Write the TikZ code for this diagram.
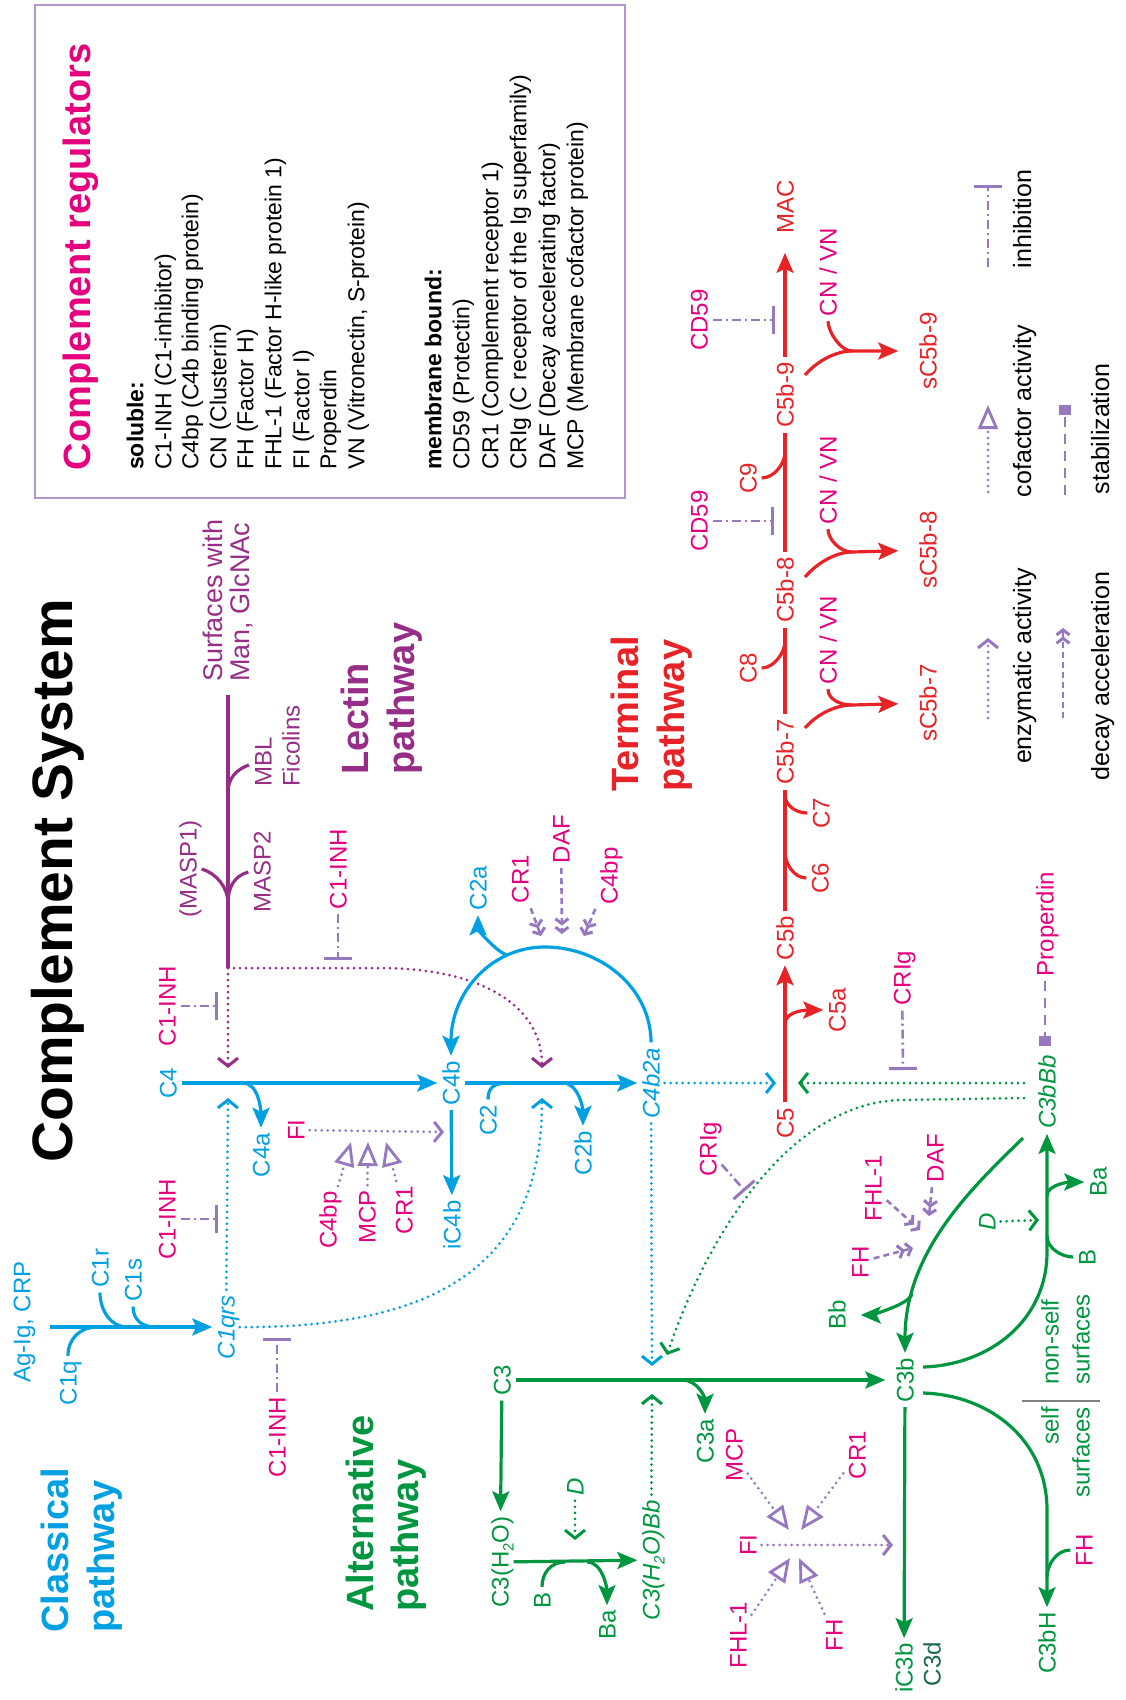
\documentclass[tikz,border=0pt]{standalone}
\usepackage{fontspec}
\setmainfont{Liberation Sans}
\usetikzlibrary{arrows.meta}
\definecolor{cblue}{RGB}{0,160,227}
\definecolor{cgreen}{RGB}{0,150,64}
\definecolor{cred}{RGB}{232,35,40}
\definecolor{cmag}{RGB}{230,0,126}
\definecolor{clect}{RGB}{150,45,135}
\definecolor{creg}{RGB}{150,120,190}
\definecolor{cbox}{RGB}{180,150,205}
\definecolor{cdark}{RGB}{25,105,75}

\begin{document}
\begin{tikzpicture}[x=1pt,y=-1pt]
\tikzstyle{lab} = [rotate=90, inner sep=5pt, text height=17pt, text depth=0pt, font=\fontsize{24}{28}\selectfont]
\tikzstyle{blab} = [lab, text=cblue]
\tikzstyle{glab} = [lab, text=cgreen]
\tikzstyle{rlab} = [lab, text=cred]
\tikzstyle{mlab} = [lab, text=cmag]
\tikzstyle{llab} = [lab, text=clect]
\tikzstyle{legtxt} = [lab, text height=18pt, font=\fontsize{25}{28}\selectfont]
\tikzstyle{boxtxt} = [rotate=90, anchor=west, inner sep=0pt, text height=16.5pt, text depth=0pt, font=\fontsize{23}{26}\selectfont]
\tikzstyle{boxbold} = [boxtxt, font=\fontsize{23}{26}\selectfont\bfseries]
\tikzstyle{ptitle} = [rotate=90, anchor=west, inner sep=0pt, text height=27.5pt, text depth=0pt, font=\fontsize{38}{44}\selectfont\bfseries]
\tikzstyle{bline} = [cblue, line width=3.2pt]
\tikzstyle{gline} = [cgreen, line width=3.2pt]
\tikzstyle{rline} = [cred, line width=3.2pt]
\tikzstyle{lline} = [clect, line width=3.2pt]
\tikzstyle{arr} = [-{Stealth[length=20pt,width=17pt,inset=4pt]}]
\tikzstyle{dotln} = [line width=3pt, line cap=round, dash pattern=on 0pt off 6pt, -{Straight Barb[length=8pt,width=20pt,line width=3pt]}]
\tikzstyle{bdot} = [dotln, cblue]
\tikzstyle{gdot} = [dotln, cgreen]
\tikzstyle{ldot} = [dotln, clect]
\tikzstyle{pdot} = [dotln, creg]
\tikzstyle{inh} = [creg, line width=2.6pt, dash pattern=on 9pt off 4pt on 2pt off 4pt, -{Bar[width=28pt,line width=3pt]}]
\tikzstyle{cof} = [creg, line width=3pt, line cap=round, dash pattern=on 0pt off 6pt, -{Triangle[open,length=24pt,width=20pt,line width=2.8pt]}]
\tikzstyle{dec} = [creg, line width=2.6pt, dash pattern=on 6pt off 4pt, -{Straight Barb[length=5pt,width=13pt,line width=3pt] Straight Barb[length=5pt,width=13pt,line width=3pt]}]
\tikzstyle{stab} = [creg, line width=2.6pt, dash pattern=on 10pt off 7pt, -{Square[length=10pt,width=12pt]}]

\useasboundingbox (0,0) rectangle (1126,1700);

% titles
\node[rotate=90, inner sep=0pt, text height=41pt, text depth=0pt, font=\fontsize{57}{60}\selectfont\bfseries] (title) at (52,881) {Complement System};
\node[ptitle, text=cblue] (clas1) at (55,1633) {Classical};
\node[ptitle, text=cblue] (clas2) at (101,1633) {pathway};
\node[ptitle, text=cgreen] (alt1) at (360,1612) {Alternative};
\node[ptitle, text=cgreen] (alt2) at (405,1612) {pathway};
\node[ptitle, text=clect] (lec1) at (355,775) {Lectin};
\node[ptitle, text=clect] (lec2) at (401,775) {pathway};
\node[ptitle, text=cred] (ter1) at (625,792) {Terminal};
\node[ptitle, text=cred] (ter2) at (671,792) {pathway};

% regulators box
\draw[cbox, line width=2pt] (35,5) rectangle (625,498);
\node[ptitle, anchor=center, text=cmag] (regtitle) at (77,257) {Complement regulators};
\node[boxbold] (sol) at (135,470) {soluble:};
\node[boxtxt] (r1) at (163,470) {C1-INH (C1-inhibitor)};
\node[boxtxt] (r2) at (190,470) {C4bp (C4b binding protein)};
\node[boxtxt] (r3) at (218,470) {CN (Clusterin)};
\node[boxtxt] (r4) at (245,470) {FH (Factor H)};
\node[boxtxt] (r5) at (273,470) {FHL-1 (Factor H-like protein 1)};
\node[boxtxt] (r6) at (301,470) {FI (Factor I)};
\node[boxtxt] (r7) at (328,470) {Properdin};
\node[boxtxt] (r8) at (356,470) {VN (Vitronectin, S-protein)};
\node[boxbold] (mem) at (433,470) {membrane bound:};
\node[boxtxt] (r9) at (461,470) {CD59 (Protectin)};
\node[boxtxt] (r10) at (490,470) {CR1 (Complement receptor 1)};
\node[boxtxt] (r11) at (518,470) {CRIg (C receptor of the Ig superfamily)};
\node[boxtxt] (r12) at (547,470) {DAF (Decay accelerating factor)};
\node[boxtxt] (r13) at (575,470) {MCP (Membrane cofactor protein)};

% legend
\node[legtxt] (lenz) at (1022,666) {enzymatic activity};
\node[legtxt] (ldec) at (1100,676) {decay acceleration};
\node[legtxt] (lcof) at (1022,411) {cofactor activity};
\node[legtxt] (lstab) at (1100,429) {stabilization};
\node[legtxt] (linh) at (1022,219) {inhibition};
\coordinate (e1) at (988,718); \coordinate (e2) at (988,638);
\coordinate (d1) at (1063,718); \coordinate (d2) at (1063,628);
\coordinate (f1) at (988,492); \coordinate (f2) at (988,405);
\coordinate (s1) at (1065,495); \coordinate (s2) at (1065,405);
\coordinate (i1) at (988,267); \coordinate (i2) at (988,185);
\draw[pdot] (e1) -- (e2);
\draw[dec] (d1) -- (d2);
\draw[cof] (f1) -- (f2);
\draw[stab] (s1) -- (s2);
\draw[inh] (i1) -- (i2);

% classical pathway
\node[blab] (agig) at (22,1322) {Ag-Ig, CRP};
\node[blab] (c1q) at (68,1383) {C1q};
\node[blab] (c1r) at (100,1268) {C1r};
\node[blab] (c1s) at (133,1280) {C1s};
\node[blab] (c1qrs) at (226,1327) {\textit{C1qrs}};
\coordinate (c1a) at (50,1327);
\coordinate (c1qj) at (97,1327);
\coordinate (c1rj) at (127,1327);
\coordinate (c1sj) at (155,1327);
\draw[bline,arr] (c1a) -- (c1qrs);
\draw[bline] (c1q.east) .. controls +(0,-18) and +(-16,0) .. (c1qj);
\draw[bline] (c1r.west) .. controls +(0,18) and +(-16,0) .. (c1rj);
\draw[bline] (c1s.west) .. controls +(0,14) and +(-12,0) .. (c1sj);

\node[mlab] (c1inhA) at (167,1006) {C1-INH};
\node[mlab] (c1inhB) at (167,1219) {C1-INH};
\node[mlab] (c1inhC) at (277,1437) {C1-INH};
\coordinate (c1inhAt) at (218,1006);
\coordinate (c1inhBt) at (218,1219);
\coordinate (c1inhCt) at (277,1338);
\draw[inh] (c1inhA) -- (c1inhAt);
\draw[inh] (c1inhB) -- (c1inhBt);
\draw[inh] (c1inhC) -- (c1inhCt);

% lectin pathway
\node[llab, anchor=west, text height=19.5pt, font=\fontsize{27}{30}\selectfont] (surf1) at (213,687) {Surfaces with};
\node[llab, anchor=west, text height=19.5pt, font=\fontsize{27}{30}\selectfont] (surf2) at (240,687) {Man, GlcNAc};
\node[llab, anchor=west] (mbl) at (263,792) {MBL};
\node[llab, anchor=west] (fic) at (291,792) {Ficolins};
\node[llab] (masp1) at (188,869) {(MASP1)};
\node[llab] (masp2) at (262,872) {MASP2};
\coordinate (lectop) at (228,695);
\coordinate (lecj) at (228,968);
\coordinate (mbls) at (249,765);
\coordinate (mblj) at (228,792);
\coordinate (maspj) at (228,903);
\draw[lline] (lectop) -- (lecj);
\draw[lline] (mbls) .. controls +(-12,4) and +(0,-14) .. (mblj);
\draw[lline] (masp1.south) .. controls +(14,4) and +(0,-16) .. (maspj);
\draw[lline] (masp2.north) .. controls +(-14,4) and +(0,-16) .. (maspj);
\node[mlab] (c1inhL) at (338,869) {C1-INH};
\coordinate (c1inhLt) at (338,960);
\draw[inh] (c1inhL) -- (c1inhLt);
\coordinate (c4inL) at (228,1068);
\coordinate (c4b2inL) at (542,1068);
\draw[ldot] (lecj) -- (c4inL);
\draw[ldot] (lecj) -- (380,968) .. controls (480,968) and (542,1005) .. (c4b2inL);

% C4 / C2 row
\node[blab] (c4) at (168,1083) {C4};
\node[blab] (c4b) at (451,1083) {C4b};
\node[blab] (c4b2a) at (651,1083) {\textit{C4b2a}};
\node[blab] (c4a) at (261,1155) {C4a};
\node[blab] (ic4b) at (452,1225) {iC4b};
\node[blab] (c2) at (488,1120) {C2};
\node[blab] (c2b) at (583,1153) {C2b};
\node[blab] (c2a) at (478,888) {C2a};
\coordinate (c4aj) at (243,1083);
\coordinate (c2j) at (510,1083);
\coordinate (c2bj) at (563,1083);
\coordinate (arctop) at (545,947);
\coordinate (c2aj) at (507,955);
\draw[bline,arr] (c4) -- (c4b);
\draw[bline,arr] (c4aj) .. controls +(16,0) and +(0,-16) .. (c4a.east);
\draw[bline,arr] (c4b) -- (ic4b);
\draw[bline,arr] (c4b) -- (c4b2a);
\draw[bline] (c2.east) .. controls +(0,-14) and +(-14,0) .. (c2j);
\draw[bline,arr] (c2bj) .. controls +(16,0) and +(0,-16) .. (c2b.east);
\draw[bline,arr] (c4b2a.east) .. controls +(0,-55) and +(55,0) .. (arctop) .. controls +(-55,0) and +(0,-62) .. (c4b.east);
\draw[bline,arr] (c2aj) .. controls +(-12,-4) and +(0,14) .. (c2a.west);

\node[mlab] (cr1a) at (520,879) {CR1};
\node[mlab] (dafa) at (561,839) {DAF};
\node[mlab] (c4bpa) at (609,876) {C4bp};
\coordinate (dA1) at (541,936);
\coordinate (dA2) at (562,934);
\coordinate (dA3) at (584,936);
\draw[dec] (cr1a) -- (dA1);
\draw[dec] (dafa) -- (dA2);
\draw[dec] (c4bpa) -- (dA3);

\node[mlab] (fia) at (296,1130) {FI};
\node[mlab] (c4bpb) at (328,1220) {C4bp};
\node[mlab] (mcpa) at (367,1217) {MCP};
\node[mlab] (cr1b) at (404,1210) {CR1};
\coordinate (fiat) at (444,1132);
\coordinate (ca1) at (351,1142);
\coordinate (ca2) at (368,1142);
\coordinate (ca3) at (386,1142);
\draw[pdot] (fia) -- (fiat);
\draw[cof] (c4bpb) -- (ca1);
\draw[cof] (mcpa) -- (ca2);
\draw[cof] (cr1b) -- (ca3);

\coordinate (c4inB) at (228,1098);
\coordinate (c4b2inB) at (542,1098);
\draw[bdot] (c1qrs) -- (c4inB);
\draw[bdot] (c1qrs) .. controls (430,1328) and (542,1270) .. (c4b2inB);
\coordinate (c5inB) at (776,1083);
\coordinate (c3inB) at (652,1366);
\draw[bdot] (c4b2a) -- (c5inB);
\draw[bdot] (c4b2a) -- (c3inB);

% terminal pathway
\node[rlab] (c5) at (785,1123) {C5};
\node[rlab] (c5b) at (785,938) {C5b};
\node[rlab] (c5a) at (837,1010) {C5a};
\node[rlab] (c6) at (820,878) {C6};
\node[rlab] (c7) at (821,813) {C7};
\node[rlab] (c5b7) at (785,752) {C5b-7};
\node[rlab] (c8) at (748,668) {C8};
\node[rlab] (c5b8) at (785,590) {C5b-8};
\node[rlab] (c9) at (748,478) {C9};
\node[rlab] (c5b9) at (785,395) {C5b-9};
\node[rlab] (mac) at (785,207) {MAC};
\coordinate (c5aj) at (785,1024);
\coordinate (c6j) at (785,852);
\coordinate (c7j) at (785,795);
\coordinate (c8j) at (785,641);
\coordinate (c9j) at (785,452);
\draw[rline,arr] (c5) -- (c5b);
\draw[rline,arr] (c5aj) .. controls +(0,-14) and +(-14,0) .. (c5a.north);
\draw[rline] (c5b) -- (c5b7);
\draw[rline] (c6.north) .. controls +(-12,0) and +(0,12) .. (c6j);
\draw[rline] (c7.north) .. controls +(-12,0) and +(0,10) .. (c7j);
\draw[rline] (c5b7) -- (c5b8);
\draw[rline] (c8.south) .. controls +(12,0) and +(0,12) .. (c8j);
\draw[rline] (c5b8) -- (c5b9);
\draw[rline] (c9.south) .. controls +(12,0) and +(0,12) .. (c9j);
\draw[rline,arr,shorten >=14pt] (c5b9) -- (mac);

\node[mlab] (cd59a) at (699,521) {CD59};
\node[mlab] (cd59b) at (699,320) {CD59};
\coordinate (cd59at) at (774,521);
\coordinate (cd59bt) at (775,320);
\draw[inh] (cd59a) -- (cd59at);
\draw[inh] (cd59b) -- (cd59bt);

\node[rlab] (s7) at (928,703) {sC5b-7};
\node[rlab] (s8) at (928,550) {sC5b-8};
\node[rlab] (s9) at (928,351) {sC5b-9};
\node[mlab] (cn7) at (828,640) {CN / VN};
\node[mlab] (cn8) at (828,480) {CN / VN};
\node[mlab] (cn9) at (828,272) {CN / VN};
\coordinate (b7s) at (805,728); \coordinate (b7j) at (852,705);
\coordinate (b8s) at (805,577); \coordinate (b8j) at (852,552);
\coordinate (b9s) at (805,375); \coordinate (b9j) at (852,351);
\draw[rline,arr,shorten >=16pt] (b7s) .. controls +(12,-14) and +(-16,0) .. (b7j) -- (s7);
\draw[rline,arr,shorten >=16pt] (b8s) .. controls +(12,-14) and +(-16,0) .. (b8j) -- (s8);
\draw[rline,arr,shorten >=16pt] (b9s) .. controls +(12,-14) and +(-16,0) .. (b9j) -- (s9);
\draw[rline] (cn7.west) .. controls +(0,10) and +(-12,0) .. (b7j);
\draw[rline] (cn8.west) .. controls +(0,10) and +(-12,0) .. (b8j);
\draw[rline] (cn9.west) .. controls +(0,10) and +(-12,0) .. (b9j);

% alternative pathway
\node[glab] (c3bbb) at (1047,1092) {\textit{C3bBb}};
\node[mlab] (prop) at (1045,924) {Properdin};
\node[mlab] (criga) at (902,978) {CRIg};
\node[mlab] (crigb) at (708,1149) {CRIg};
\coordinate (propt) at (1045,1046);
\coordinate (crigat) at (903,1070);
\coordinate (crigbt) at (745,1191);
\coordinate (c5inG) at (798,1083);
\coordinate (gA) at (1024,1083);
\coordinate (gB) at (1024,1098);
\coordinate (c3inG) at (667,1355);
\draw[stab] (prop) -- (propt);
\draw[inh] (criga) -- (crigat);
\draw[gdot] (gA) -- (c5inG);
\draw[gdot] (gB) -- (900,1100) .. controls (780,1104) and (700,1255) .. (c3inG);
\draw[inh] (crigb) -- (crigbt);

\node[glab] (c3) at (502,1380) {C3};
\node[glab] (c3b) at (905,1380) {C3b};
\node[glab] (c3a) at (705,1441) {C3a};
\node[glab] (c3h2o) at (500,1562) {C3(H\raisebox{-5pt}{\fontsize{15}{15}\selectfont 2}O)};
\node[glab] (c3h2obb) at (651,1560) {\textit{C3(H\raisebox{-5pt}{\fontsize{15}{15}\selectfont 2}O)Bb}};
\node[glab] (balt) at (542,1600) {B};
\node[glab] (baalt) at (607,1625) {Ba};
\node[glab] (dalt) at (575,1487) {\textit{D}};
\coordinate (c3aj) at (682,1380);
\coordinate (bj1) at (565,1562);
\coordinate (baj1) at (587,1562);
\coordinate (dalt2) at (575,1540);
\coordinate (c3inH) at (652,1394);
\draw[gline,arr,shorten >=6pt] (c3) -- (c3b);
\draw[gline,arr] (c3aj) .. controls +(16,0) and +(0,-16) .. (c3a.east);
\draw[gline,arr] (c3) -- (c3h2o);
\draw[gline,arr] (c3h2o) -- (c3h2obb);
\draw[gline] (balt.east) .. controls +(0,-14) and +(-14,0) .. (bj1);
\draw[gline,arr] (baj1) .. controls +(16,0) and +(0,-16) .. (baalt.east);
\draw[gdot] (dalt) -- (dalt2);
\draw[gdot] (c3h2obb) -- (c3inH);

\node[mlab] (fib) at (748,1545) {FI};
\node[mlab] (mcpb) at (734,1455) {MCP};
\node[mlab] (cr1c) at (857,1455) {CR1};
\node[mlab] (fhl1b) at (738,1635) {FHL-1};
\node[mlab] (fhb) at (834,1635) {FH};
\coordinate (fibt) at (893,1545);
\coordinate (t1) at (789,1530);
\coordinate (t2) at (801,1530);
\coordinate (t3) at (790,1558);
\coordinate (t4) at (799,1558);
\draw[pdot] (fib) -- (fibt);
\draw[cof] (mcpb) -- (t1);
\draw[cof] (cr1c) -- (t2);
\draw[cof] (fhl1b) -- (t3);
\draw[cof] (fhb) -- (t4);

\node[glab] (ic3b) at (904,1668) {iC3b};
\node[lab, text=cdark] (c3d) at (932,1664) {C3d};
\draw[gline,arr] (c3b) -- (ic3b);

\node[glab] (bb) at (837,1315) {Bb};
\coordinate (gC) at (1023,1138);
\coordinate (bbj) at (912,1294);
\draw[gline,arr] (gC) .. controls (975,1185) and (905,1250) .. (c3b.east);
\draw[gline,arr,shorten >=10pt] (bbj) .. controls +(-4,12) and +(16,0) .. (bb.south);
\node[mlab] (fha) at (860,1262) {FH};
\node[mlab] (fhl1a) at (873,1188) {FHL-1};
\node[mlab] (dafb) at (935,1158) {DAF};
\coordinate (dB1) at (913,1248);
\coordinate (dB2) at (920,1230);
\coordinate (dB3) at (929,1216);
\draw[dec] (fha) -- (dB1);
\draw[dec] (fhl1a) -- (dB2);
\draw[dec] (dafb) -- (dB3);

\node[glab] (bnon) at (1087,1257) {B};
\node[glab] (banon) at (1098,1182) {Ba};
\node[glab] (dnon) at (987,1222) {\textit{D}};
\coordinate (c3bR) at (923,1367);
\coordinate (bj2) at (1047,1236);
\coordinate (baj2) at (1047,1196);
\coordinate (dnon2) at (1039,1220);
\draw[gline,arr] (c3bR) .. controls (990,1365) and (1047,1320) .. (1047,1252) -- (c3bbb);
\draw[gline] (bnon.north) .. controls +(-12,0) and +(0,12) .. (bj2);
\draw[gline,arr] (baj2) .. controls +(0,-12) and +(-14,0) .. (banon.north);
\draw[gdot] (dnon) -- (dnon2);

\node[glab] (c3bh) at (1047,1643) {C3bH};
\node[mlab] (fhs) at (1084,1550) {FH};
\coordinate (c3bS) at (923,1393);
\coordinate (fhsj) at (1047,1577);
\draw[gline,arr] (c3bS) .. controls (990,1395) and (1047,1440) .. (1047,1510) -- (c3bh);
\draw[gline] (fhs.north) .. controls +(-14,0) and +(0,-12) .. (fhsj);

\draw[gray, line width=2pt] (1022,1401) -- (1100,1401);
\node[glab, anchor=west] (ns1) at (1050,1390) {non-self};
\node[glab, anchor=west] (ns2) at (1081,1390) {surfaces};
\node[glab, anchor=east] (sf1) at (1050,1402) {self};
\node[glab, anchor=east] (sf2) at (1081,1402) {surfaces};
\end{tikzpicture}
\end{document}
